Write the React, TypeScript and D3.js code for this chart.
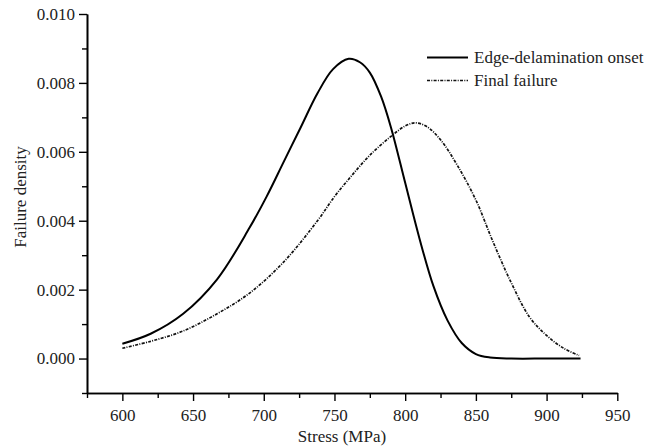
import React, { useEffect, useRef } from 'react';
import * as d3 from 'd3';

// stress (MPa) / failure density
const onsetStress = [600, 620, 643, 667, 690, 702, 714, 726, 738, 749, 760, 768, 775, 783, 790, 800, 810, 820, 830, 840, 850, 860, 875, 900, 924];
const onsetDensity = [0.00043, 0.00072, 0.0013, 0.0023, 0.0038, 0.0047, 0.0057, 0.0067, 0.0077, 0.0084, 0.0087, 0.0086, 0.0083, 0.0076, 0.0067, 0.0051, 0.0035, 0.0021, 0.0011, 0.00045, 0.00013, 0.00003, 0.0, 0.0, 0.0];

const finalStress = [600, 620, 643, 667, 690, 714, 738, 750, 762, 775, 790, 800, 807, 815, 825, 837, 850, 862, 875, 888, 900, 912, 923];
const finalDensity = [0.0003, 0.0005, 0.0008, 0.0013, 0.0019, 0.0028, 0.004, 0.0047, 0.0053, 0.0059, 0.00645, 0.00675, 0.00684, 0.00674, 0.00635, 0.0056, 0.0046, 0.0034, 0.0022, 0.0012, 0.00067, 0.0003, 0.00009];

const xMajor = [600, 650, 700, 750, 800, 850, 900, 950];
const xMinor = [575, 625, 675, 725, 775, 825, 875, 925];
const yMajor = [0, 0.002, 0.004, 0.006, 0.008, 0.01];
const yMinor = [-0.001, 0.001, 0.003, 0.005, 0.007, 0.009];

const seriesNames = ['Edge-delamination onset', 'Final failure'];

const W = 658;
const H = 446;
const FONT = "'Liberation Serif', 'Times New Roman', 'DejaVu Serif', serif";

export default function App() {
    const gx = useRef<SVGGElement>(null);
    const gy = useRef<SVGGElement>(null);

    const x = d3.scaleLinear().domain([575, 950]).range([87, 617.3]);
    const y = d3.scaleLinear().domain([-0.001, 0.01]).range([393, 14]);

    const line = d3.line<[number, number]>()
        .x(d => x(d[0]))
        .y(d => y(d[1]))
        .curve(d3.curveCatmullRom.alpha(0.5));

    const onset = onsetStress.map((s, i) => [s, onsetDensity[i]] as [number, number]);
    const final = finalStress.map((s, i) => [s, finalDensity[i]] as [number, number]);

    useEffect(() => {
        const ax = d3.select(gx.current);
        ax.selectAll('*').remove();
        ax.append('g').call(
            d3.axisBottom(x).tickValues(xMinor).tickSize(5).tickSizeOuter(0).tickFormat(() => '')
        );
        ax.append('g').call(
            d3.axisBottom(x).tickValues(xMajor).tickSize(8).tickSizeOuter(0).tickPadding(8).tickFormat(d3.format('d'))
        );

        const ay = d3.select(gy.current);
        ay.selectAll('*').remove();
        ay.append('g').call(
            d3.axisLeft(y).tickValues(yMinor).tickSize(5).tickSizeOuter(0).tickFormat(() => '')
        );
        ay.append('g').call(
            d3.axisLeft(y).tickValues(yMajor).tickSize(8).tickSizeOuter(0).tickPadding(4).tickFormat(d3.format('.3f'))
        );

        [ax, ay].forEach(a => {
            a.selectAll('g').attr('font-family', null);
            a.selectAll('path.domain').attr('stroke', '#000').attr('stroke-width', 1.6);
            a.selectAll('line').attr('stroke', '#000').attr('stroke-width', 1.4);
            a.selectAll('text')
                .style('font-family', FONT)
                .style('font-size', '17px')
                .attr('fill', '#222');
        });
    }, []);

    return (
        <svg width={W} height={H} style={{ position: 'absolute', left: 0, top: 0, background: '#fff' }}>
            <g ref={gx} transform={`translate(0,${y(-0.001)})`} />
            <g ref={gy} transform={`translate(${x(575)},0)`} />

            <path d={line(onset) || ''} fill="none" stroke="#000" strokeWidth={2} />
            <path d={line(final) || ''} fill="none" stroke="#111" strokeWidth={1.7} strokeDasharray="3 1.3 1 1.3" />

            <g style={{ fontFamily: FONT, fontSize: '17px' }} fill="#222">
                <line x1={427} x2={468} y1={57.5} y2={57.5} stroke="#000" strokeWidth={2} />
                <text x={474} y={63}>{seriesNames[0]}</text>
                <line x1={427} x2={468} y1={80.5} y2={80.5} stroke="#111" strokeWidth={1.5} strokeDasharray="3 1.3 1 1.3" />
                <text x={474} y={86}>{seriesNames[1]}</text>

                <text x={342} y={442} textAnchor="middle">Stress (MPa)</text>
                <text transform="translate(26,197) rotate(-90)" textAnchor="middle">Failure density</text>
            </g>
        </svg>
    );
}
